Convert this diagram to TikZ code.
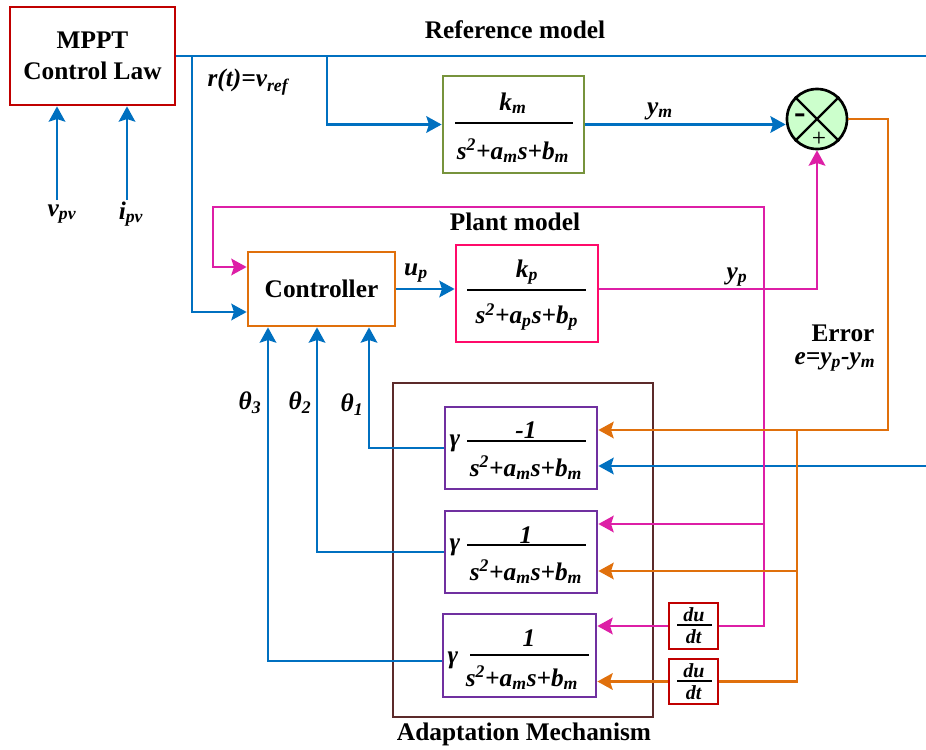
\documentclass[tikz,border=0pt]{standalone}
\usepackage{fontspec}
\setmainfont{Liberation Serif}
\usetikzlibrary{arrows.meta}
\definecolor{cblue}{HTML}{0070C0}
\definecolor{cpink}{HTML}{DD1FA6}
\definecolor{cplant}{HTML}{FF0A6A}
\definecolor{corange}{HTML}{E0700C}
\definecolor{cgreen}{HTML}{77933C}
\definecolor{cpurple}{HTML}{7030A0}
\definecolor{cbrown}{HTML}{5C2A2A}
\definecolor{cred}{HTML}{C00000}
\definecolor{cfill}{HTML}{CCFFCC}
\newcommand\bi[1]{\textbf{\textit{#1}}}
\newcommand\dnm[1]{\bi{s\textsuperscript{2}+a\textsubscript{#1}s+b\textsubscript{#1}}}
\begin{document}
\begin{tikzpicture}[x=0.75pt,y=-0.75pt,line width=1.6pt,
  arr/.style={-{Stealth[length=11.5pt,width=12.5pt,inset=2pt]}},
  blk/.style={draw,inner sep=0pt,line width=2.1pt},
  lbl/.style={inner sep=0pt,font=\fontsize{19}{23}\selectfont\bfseries},
  mth/.style={inner sep=0pt,font=\fontsize{19}{23}\selectfont},
  sml/.style={inner sep=0pt,font=\fontsize{15}{18}\selectfont},
  frl/.style={draw=black,line width=1.6pt}]
\useasboundingbox (0,0) rectangle (926,750);

% blocks
\node[blk,draw=cred,minimum width=123.75pt,minimum height=73.5pt,align=center,lbl] (mppt) at (92.5,56) {MPPT\\Control Law};
\node[blk,draw=cgreen,minimum width=105.75pt,minimum height=72.75pt] (km) at (513.5,124.5) {};
\node[blk,draw=corange,minimum width=110.25pt,minimum height=55.5pt,lbl] (ctrl) at (321.5,289) {Controller};
\node[blk,draw=cplant,minimum width=106.5pt,minimum height=72.75pt] (plant) at (527,293.5) {};
\node[blk,draw=cbrown,minimum width=195pt,minimum height=250.5pt] (adapt) at (523,550) {};
\node[blk,draw=cpurple,minimum width=114pt,minimum height=61.5pt] (p1) at (521,448) {};
\node[blk,draw=cpurple,minimum width=114pt,minimum height=61.5pt] (p2) at (521,552) {};
\node[blk,draw=cpurple,minimum width=114.75pt,minimum height=62.25pt] (p3) at (519.5,655.5) {};
\node[blk,draw=cred,minimum width=36.75pt,minimum height=34.5pt] (duA) at (693.5,626) {};
\node[blk,draw=cred,minimum width=36.75pt,minimum height=33.75pt] (duB) at (693.5,681.5) {};
\node[circle,draw=black,line width=2pt,fill=cfill,minimum size=45pt,inner sep=0pt] (sum) at (817,119) {};
\draw[line width=1.8pt] (sum.north west) -- (sum.south east);
\draw[line width=1.8pt] (sum.north east) -- (sum.south west);
\node[inner sep=0pt,font=\fontsize{26}{26}\selectfont\bfseries] (minus) at (800,119) {-};
\node[inner sep=0pt,font=\fontsize{19}{19}\selectfont] (plus) at (819,139) {+};

% fractions
\node[mth] (kmn) at (513,103) {\bi{k\textsubscript{m}}};
\draw[frl] (455,123) -- (573,123);
\node[mth] (kmd) at (513,151) {\dnm{m}};

\node[mth] (kpn) at (527,272) {\bi{k\textsubscript{p}}};
\draw[frl] (467,290) -- (586,290);
\node[mth] (kpd) at (527,317) {\dnm{p}};

\node[mth] (g1) at (455,443) {\bi{γ}};
\node[mth] (p1n) at (526,430) {\bi{-1}};
\draw[frl] (467,441) -- (586,441);
\node[mth] (p1d) at (526,468) {\dnm{m}};

\node[mth] (g2) at (455,547) {\bi{γ}};
\node[mth] (p2n) at (526,535) {\bi{1}};
\draw[frl] (467,545) -- (586,545);
\node[mth] (p2d) at (526,572) {\dnm{m}};

\node[mth] (g3) at (453,660) {\bi{γ}};
\node[mth] (p3n) at (529,638) {\bi{1}};
\draw[frl] (470,655) -- (589,655);
\node[mth] (p3d) at (522,678) {\dnm{m}};

\node[sml] (duAn) at (694,615) {\bi{du}};
\draw[line width=1.3pt] (677,625) -- (712,625);
\node[sml] (duAd) at (694,637) {\bi{dt}};
\node[sml] (duBn) at (694,671) {\bi{du}};
\draw[line width=1.3pt] (677,681) -- (712,681);
\node[sml] (duBd) at (694,693) {\bi{dt}};

% labels
\node[lbl] (tref) at (515,30) {Reference model};
\node[lbl] (tplant) at (515,222) {Plant model};
\node[lbl] (tadapt) at (524,734) {Adaptation Mechanism};
\node[lbl] (terr) at (843,333) {Error};
\node[mth] (terr2) at (835,362) {\bi{e=y\textsubscript{p}-y\textsubscript{m}}};
\node[mth] (tr) at (248,82) {\bi{r(t)=v\textsubscript{ref}}};
\node[mth] (tvpv) at (62,214) {\bi{v\textsubscript{pv}}};
\node[mth] (tipv) at (131,214) {\bi{i\textsubscript{pv}}};
\node[mth] (tym) at (660,111) {\bi{y\textsubscript{m}}};
\node[mth] (typ) at (737,277) {\bi{y\textsubscript{p}}};
\node[mth] (tup) at (416,273) {\bi{u\textsubscript{p}}};
\node[mth] (tth3) at (250,403) {\bi{θ\textsubscript{3}}};
\node[mth] (tth2) at (300,403) {\bi{θ\textsubscript{2}}};
\node[mth] (tth1) at (352,405) {\bi{θ\textsubscript{1}}};

% coordinates
\coordinate (rEnd) at (926,56);
\coordinate (bEnd) at (926,466);
\coordinate (vpv) at (57,200);
\coordinate (ipv) at (127,200);

% blue connectors
\draw[cblue,arr] (vpv) -- (57,0 |- mppt.south);
\draw[cblue,arr] (ipv) -- (127,0 |- mppt.south);
\draw[cblue] (mppt.east) -- (rEnd);
\draw[cblue,arr] (192,56) |- (ctrl.west |- 0,312);
\draw[cblue,arr] (327,56) |- (km.west);
\draw[cblue,arr] (km.east) -- (sum.west |- km.east);
\draw[cblue,arr] (ctrl.east) -- (plant.west |- ctrl.east);
\draw[cblue,arr] (bEnd) -- (p1.east |- bEnd);
\draw[cblue,arr] (p1.west) -| (369,0 |- ctrl.south);
\draw[cblue,arr] (p2.west) -| (317,0 |- ctrl.south);
\draw[cblue,arr] (p3.west |- 0,661) -| (268,0 |- ctrl.south);

% pink connectors
\draw[cpink,arr] (plant.east |- 0,289) -| (sum.south);
\draw[cpink,arr] (duA.east) -| (764,207) -| (213,267) -- (ctrl.west |- 0,267);
\draw[cpink,arr] (764,524) -- (p2.east |- 0,524);
\draw[cpink,arr] (duA.west) -- (p3.east |- duA.west);

% orange connectors
\draw[corange,arr] (sum.east) -| (888,430) -- (p1.east |- 0,430);
\draw[corange] (797,430) |- (duB.east);
\draw[corange,arr] (797,571) -- (p2.east |- 0,571);
\draw[corange,arr] (duB.west) -- (p3.east |- duB.west);
\end{tikzpicture}
\end{document}
